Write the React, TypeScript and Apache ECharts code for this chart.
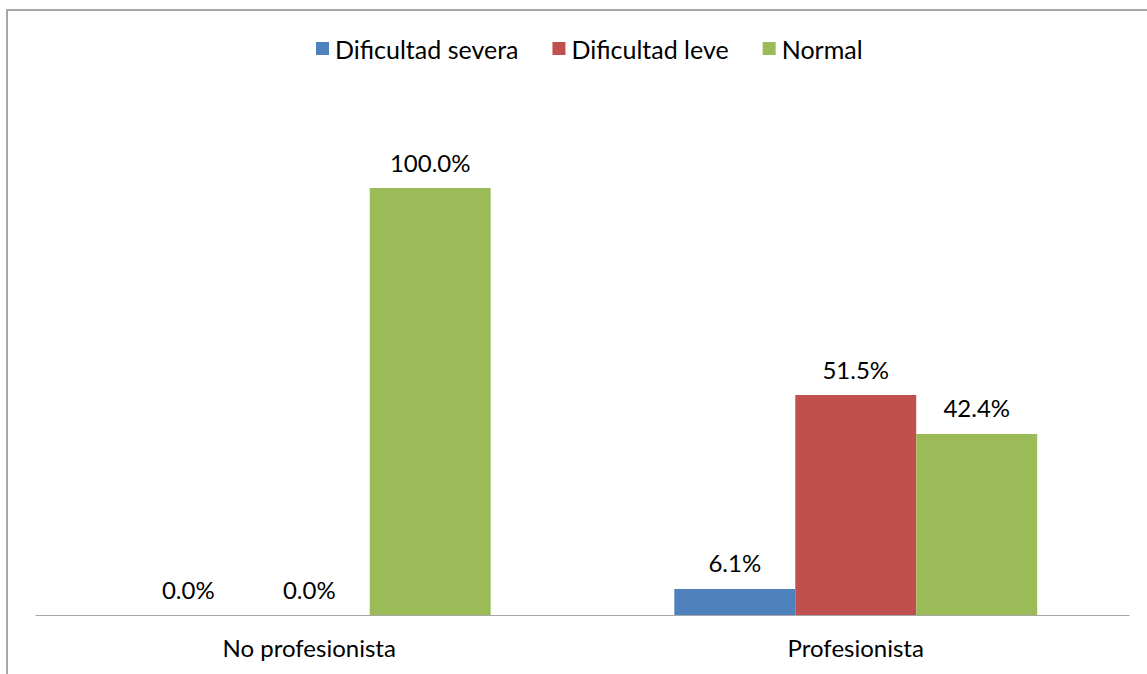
import React, { useEffect, useRef } from "react";
import * as echarts from "echarts";

const categories = ["No profesionista", "Profesionista"];
const seriesNames = ["Dificultad severa", "Dificultad leve", "Normal"];
const severa = [0.0, 6.1];
const leve = [0.0, 51.5];
const normal = [100.0, 42.4];
const colors = ["#4F81BD", "#C0504D", "#9BBB59"];

const FONT = "Lato";
const FS = 24;

export default function App() {
  const ref = useRef<HTMLDivElement>(null);
  useEffect(() => {
    document.body.style.margin = "0";
    const chart = echarts.init(ref.current!, null, { renderer: "svg" });
    const values = [severa, leve, normal];
    chart.setOption({
      animation: false,
      backgroundColor: "#ffffff",
      textStyle: { fontFamily: FONT },
      graphic: [
        {
          type: "rect",
          shape: { x: 7, y: 10, width: 1200, height: 720 },
          style: { fill: "none", stroke: "#8c8c8c", lineWidth: 1.5 },
          silent: true,
          z: -1,
        },
      ],
      legend: {
        top: 31,
        left: 311,
        itemWidth: 13,
        itemHeight: 13,
        itemGap: 34,
        icon: "rect",
        textStyle: { fontFamily: FONT, fontSize: 25, color: "#000", padding: [0, 0, 0, 1] },
        data: seriesNames,
      },
      grid: { left: 36, right: 18, top: 102.6, bottom: 59, containLabel: false },
      xAxis: {
        type: "category",
        data: categories,
        axisLine: { lineStyle: { color: "#a6a6a6", width: 1 } },
        axisTick: { show: false },
        axisLabel: { fontFamily: FONT, fontSize: FS, color: "#000", margin: 20 },
      },
      yAxis: {
        type: "value",
        min: 0,
        max: 120,
        show: false,
        splitLine: { show: false },
      },
      series: seriesNames.map((name, i) => ({
        name,
        type: "bar",
        data: values[i],
        barGap: "0%",
        barCategoryGap: "33.6%",
        itemStyle: { color: colors[i] },
        label: {
          show: true,
          position: "top",
          distance: 14,
          fontFamily: FONT,
          fontSize: FS,
          color: "#000",
          formatter: (p: any) => p.value.toFixed(1) + "%",
        },
      })),
    });
    return () => chart.dispose();
  }, []);
  return <div ref={ref} style={{ width: 1147, height: 674 }} />;
}
